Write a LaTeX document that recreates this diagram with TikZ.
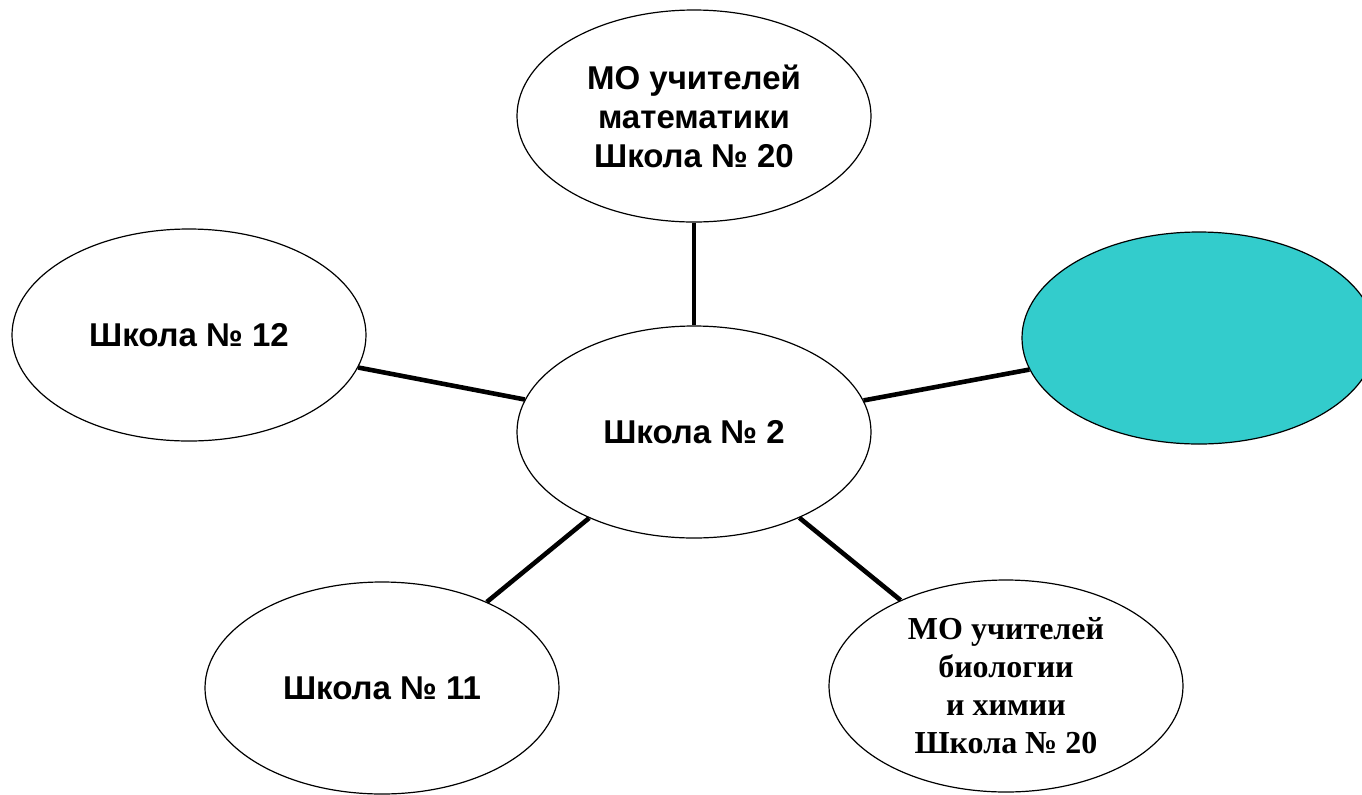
\documentclass[tikz,border=0pt]{standalone}
\usepackage{fontspec}
\setmainfont{Liberation Sans}
\newfontfamily\serifbold{Liberation Serif}
\usetikzlibrary{shapes.geometric}
\definecolor{tealfill}{RGB}{51,204,204}
\tikzset{
  oval/.style={ellipse, draw=black, line width=0.6pt, fill=white, inner sep=0pt,
    minimum width=177pt, minimum height=106pt, align=center,
    font=\fontsize{16.5}{19.5}\selectfont\bfseries},
  link/.style={draw=black, line width=2.3pt}
}
\begin{document}
\begin{tikzpicture}[x=0.5pt,y=-0.5pt]
\useasboundingbox (0,0) rectangle (1362,794);
\clip (0,0) rectangle (1362,794);
\node[oval] (top) at (694,116) {МО учителей\\математики\\Школа № 20};
\node[oval] (left) at (189,335) {Школа № 12};
\node[oval] (mid) at (694,432) {Школа № 2};
\node[oval, fill=tealfill] (right) at (1199,338) {};
\node[oval] (bl) at (382,688) {Школа № 11};
\node[oval, font=\fontsize{16}{19}\selectfont\serifbold\bfseries] (br) at (1006,686) {МО учителей\\биологии\\и химии\\Школа № 20};
\draw[link] (top) -- (mid);
\draw[link] (left) -- (mid);
\draw[link] (mid) -- (right);
\draw[link] (mid) -- (bl);
\draw[link] (mid) -- (br);
\end{tikzpicture}
\end{document}
